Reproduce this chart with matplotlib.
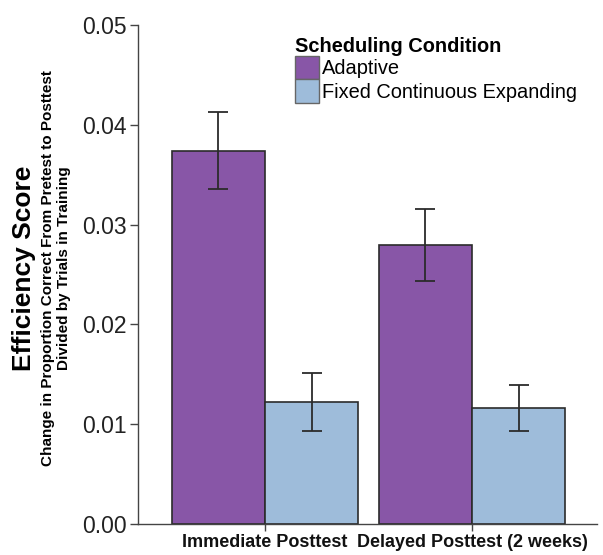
import numpy as np
import matplotlib.pyplot as plt
from matplotlib.patches import Patch

plt.rcParams['font.family'] = ['Liberation Sans', 'DejaVu Sans']

# data
groups = ['Immediate Posttest', 'Delayed Posttest (2 weeks)']
conditions = ['Adaptive', 'Fixed Continuous Expanding']
adaptive = [0.0374, 0.0280]
adaptive_lo = [0.0336, 0.0243]
adaptive_hi = [0.0413, 0.0316]
fixed = [0.0122, 0.0116]
fixed_lo = [0.0093, 0.0093]
fixed_hi = [0.0151, 0.0139]
colors = ['#8856a7', '#9ebcda']

fig = plt.figure(figsize=(6.03, 5.55), dpi=100)
ax = fig.add_axes([0.229, 0.0559, 0.761, 0.899])

x = np.arange(len(groups))
w = 0.45
ec = '#2b2b2b'

for vals, lo, hi, off, c in [(adaptive, adaptive_lo, adaptive_hi, -w / 2, colors[0]),
                             (fixed, fixed_lo, fixed_hi, w / 2, colors[1])]:
    vals = np.array(vals)
    yerr = [vals - np.array(lo), np.array(hi) - vals]
    ax.bar(x + off, vals, width=w, color=c, edgecolor=ec, linewidth=1.2, zorder=2)
    ax.errorbar(x + off, vals, yerr=yerr, fmt='none', ecolor=ec, elinewidth=1.3,
                capsize=7, capthick=1.3, zorder=3)

ax.set_xlim(-0.613, 1.604)
ax.set_ylim(0, 0.05)
ax.set_yticks([0, 0.01, 0.02, 0.03, 0.04, 0.05])
ax.set_yticklabels(['0.00', '0.01', '0.02', '0.03', '0.04', '0.05'])
ax.set_xticks(x)
ax.set_xticklabels(groups, fontweight='bold', fontsize=13)
ax.tick_params(axis='y', labelsize=16.5, length=6, width=1, color='#444', labelcolor='#222', pad=2)
ax.tick_params(axis='x', length=5, width=1, color='#444', labelcolor='#111', pad=2)

for s in ['top', 'right']:
    ax.spines[s].set_visible(False)
for s in ['left', 'bottom']:
    ax.spines[s].set_color('#444')
    ax.spines[s].set_linewidth(1)

handles = [Patch(facecolor=colors[0], edgecolor='#666'),
           Patch(facecolor=colors[1], edgecolor='#666')]
leg = ax.legend(handles, conditions, title='Scheduling Condition', loc='upper left',
                bbox_to_anchor=(0.312, 1.005), frameon=False, fontsize=14.4,
                title_fontproperties={'weight': 'bold', 'size': 14.4},
                handlelength=1.2, handleheight=1.45, labelspacing=0,
                handletextpad=0.15, borderpad=0.2, alignment='left')

fig.text(0.040, 0.517, 'Efficiency Score', rotation=90, ha='center', va='center',
         fontsize=19, fontweight='bold')
fig.text(0.080, 0.517, 'Change in Proportion Correct From Pretest to Posttest',
         rotation=90, ha='center', va='center', fontsize=11, fontweight='bold')
fig.text(0.106, 0.517, 'Divided by Trials in Training',
         rotation=90, ha='center', va='center', fontsize=11, fontweight='bold')

fig.savefig('out.png', dpi=100)
